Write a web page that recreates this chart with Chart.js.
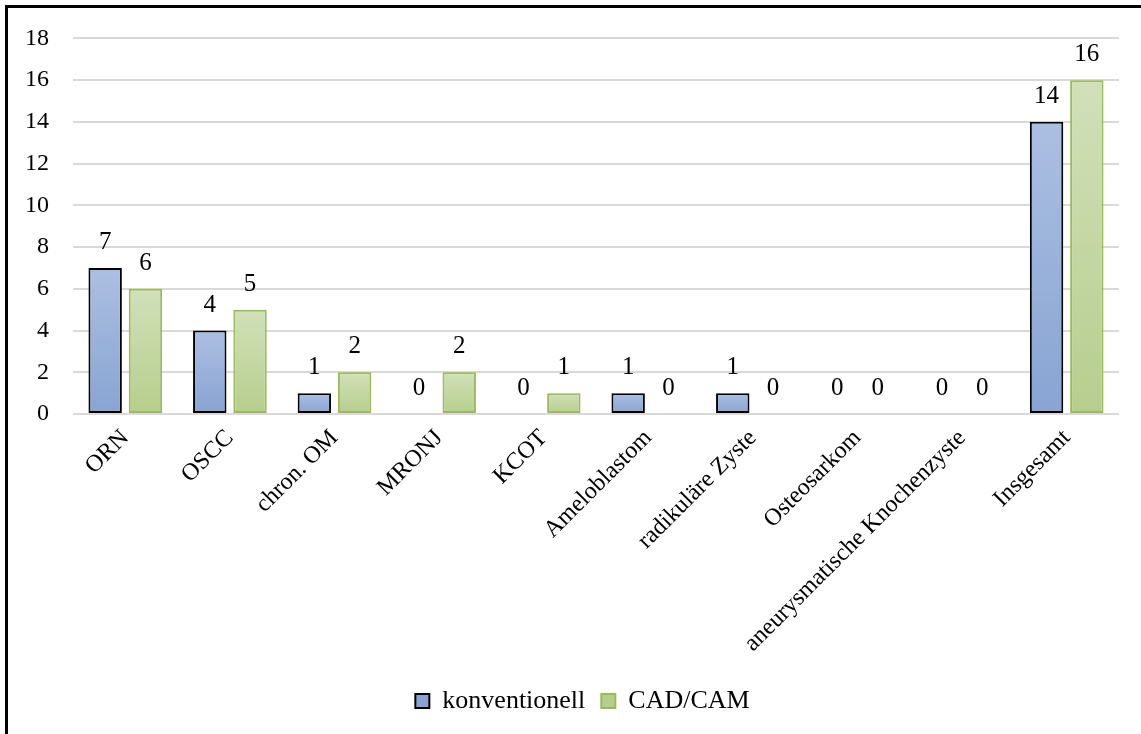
<!DOCTYPE html>
<html>
<head>
<meta charset="utf-8">
<script src="https://cdn.jsdelivr.net/npm/chart.js@4.4.1/dist/chart.umd.min.js"></script>
<style>
  html, body { margin: 0; padding: 0; background: #fff; }
  #wrap  { position: relative; width: 1141px; height: 734px; }
  #frame { position: absolute; left: 5px; top: 5px; right: 0; bottom: 0;
           border-left: 3px solid #000; border-top: 3px solid #000; pointer-events: none; }
  canvas { position: absolute; left: 0; top: 0; }
</style>
</head>
<body>
<div id="wrap">
  <canvas id="chart" width="1141" height="734"></canvas>
  <div id="frame"></div>
</div>
<script>
/* ---------- data ---------- */
const categories    = ['ORN', 'OSCC', 'chron. OM', 'MRONJ', 'KCOT', 'Ameloblastom',
                       'radikuläre Zyste', 'Osteosarkom', 'aneurysmatische Knochenzyste', 'Insgesamt'];
const konventionell = [7, 4, 1, 0, 0, 1, 1, 0, 0, 14];
const cadcam        = [6, 5, 2, 2, 1, 0, 0, 0, 0, 16];
const yMax  = 18;
const yStep = 2;

const FONT = "'Liberation Serif', 'Times New Roman', serif";

/* per-bar vertical gradient (lighter on top) */
function barGradient(top, bottom) {
  return (c) => {
    const chart = c.chart;
    if (!chart.chartArea || c.type !== 'data') return bottom;
    const y = chart.scales.y;
    const y0 = y.getPixelForValue(0);
    const y1 = y.getPixelForValue(c.raw);
    if (y0 - y1 < 1) return bottom;
    const g = chart.ctx.createLinearGradient(0, y1, 0, y0);
    g.addColorStop(0, top);
    g.addColorStop(1, bottom);
    return g;
  };
}

/* value labels above bars */
const valueLabels = {
  id: 'valueLabels',
  afterDatasetsDraw(chart) {
    const ctx = chart.ctx;
    ctx.save();
    ctx.font = "25px " + FONT;
    ctx.fillStyle = '#000';
    ctx.textAlign = 'center';
    ctx.textBaseline = 'alphabetic';
    chart.data.datasets.forEach((ds, di) => {
      chart.getDatasetMeta(di).data.forEach((bar, i) => {
        ctx.fillText(String(ds.data[i]), bar.x, bar.y - 19);
      });
    });
    ctx.restore();
  }
};

/* legend sits a little right of the canvas centre in the original */
const legendShift = {
  id: 'legendShift',
  afterLayout(chart) {
    if (chart.legend) { chart.legend.left += 23; chart.legend.right += 23; }
  }
};

new Chart(document.getElementById('chart'), {
  type: 'bar',
  data: {
    labels: categories,
    datasets: [
      {
        label: 'konventionell',
        data: konventionell,
        backgroundColor: barGradient('#abbfe1', '#88a4d3'),
        borderColor: '#000',
        borderWidth: (c) => (c.raw ? 2 : 0),
        borderSkipped: false
      },
      {
        label: 'CAD/CAM',
        data: cadcam,
        backgroundColor: barGradient('#d1e0b9', '#b6ce8d'),
        borderColor: '#9bbb59',
        borderWidth: (c) => (c.raw ? 2 : 0),
        borderSkipped: false
      }
    ]
  },
  options: {
    responsive: false,
    animation: false,
    categoryPercentage: 0.77,
    barPercentage: 0.83,
    layout: { padding: { top: 34, right: 22, bottom: 10, left: 0 } },
    scales: {
      x: {
        grid: { display: false },
        border: { display: false },
        ticks: {
          color: '#000', font: { family: FONT, size: 24 },
          maxRotation: 45, minRotation: 45, padding: 2, autoSkip: false
        },
        afterFit: (s) => { s.height = 258; }
      },
      y: {
        min: 0, max: yMax,
        grid: { color: '#d9d9d9', lineWidth: 2, drawTicks: false },
        border: { display: false },
        ticks: { stepSize: yStep, color: '#000', font: { family: FONT, size: 24 }, padding: 24 },
        afterFit: (s) => { s.width = 73; }
      }
    },
    plugins: {
      legend: {
        position: 'bottom',
        labels: {
          color: '#000', font: { family: FONT, size: 26 },
          boxWidth: 14, boxHeight: 14, padding: 16
        }
      },
      tooltip: { enabled: false }
    }
  },
  plugins: [valueLabels, legendShift]
});
</script>
</body>
</html>
